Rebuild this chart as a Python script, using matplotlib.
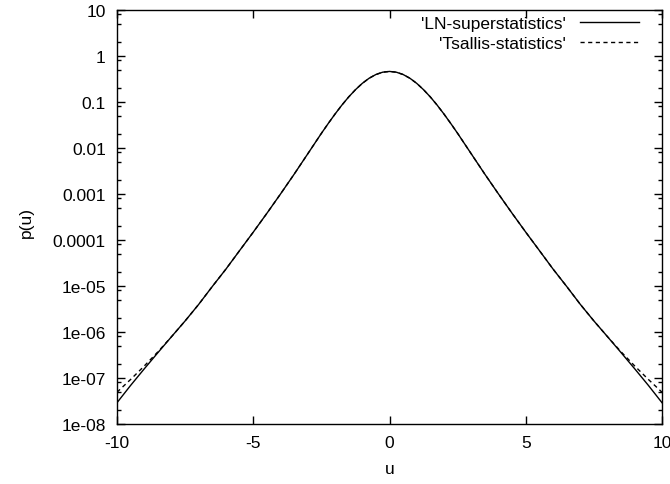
import numpy as np
import matplotlib.pyplot as plt
from matplotlib.ticker import LogLocator, NullFormatter, NullLocator

plt.rcParams['font.family'] = ['Liberation Sans', 'DejaVu Sans']
plt.rcParams['font.size'] = 12.5
plt.rcParams['axes.unicode_minus'] = False

# data
u = [-10, -9.5, -9, -8.5, -8, -7.5, -7, -6.5, -6, -5.5, -5, -4.5, -4, -3.5, -3,
     -2.5, -2.25, -2, -1.75, -1.5, -1.25, -1, -0.75, -0.5, -0.25, 0,
     0.25, 0.5, 0.75, 1, 1.25, 1.5, 1.75, 2, 2.25, 2.5,
     3, 3.5, 4, 4.5, 5, 5.5, 6, 6.5, 7, 7.5, 8, 8.5, 9, 9.5, 10]

p_tsallis = [4.9e-8, 9.3e-8, 1.82e-7, 3.7e-7, 7.9e-7, 1.74e-6, 4.0e-6, 9.8e-6,
             2.34e-5, 5.9e-5, 1.48e-4, 3.8e-4, 1.0e-3, 2.69e-3, 7.47e-3,
             0.0208, 0.0340, 0.0546, 0.0853, 0.1285, 0.185, 0.254, 0.328, 0.396, 0.445, 0.462,
             0.445, 0.396, 0.328, 0.254, 0.185, 0.1285, 0.0853, 0.0546, 0.0340, 0.0208,
             7.47e-3, 2.69e-3, 1.0e-3, 3.8e-4, 1.48e-4, 5.9e-5, 2.34e-5, 9.8e-6,
             4.0e-6, 1.74e-6, 7.9e-7, 3.7e-7, 1.82e-7, 9.3e-8, 4.9e-8]

p_ln = [2.9e-8, 6.9e-8, 1.58e-7, 3.55e-7, 7.9e-7, 1.74e-6, 4.0e-6, 9.8e-6,
        2.34e-5, 5.9e-5, 1.48e-4, 3.8e-4, 1.0e-3, 2.69e-3, 7.47e-3,
        0.0208, 0.0340, 0.0546, 0.0853, 0.1285, 0.185, 0.254, 0.328, 0.396, 0.445, 0.462,
        0.445, 0.396, 0.328, 0.254, 0.185, 0.1285, 0.0853, 0.0546, 0.0340, 0.0208,
        7.47e-3, 2.69e-3, 1.0e-3, 3.8e-4, 1.48e-4, 5.9e-5, 2.34e-5, 9.8e-6,
        4.0e-6, 1.74e-6, 7.9e-7, 3.55e-7, 1.58e-7, 6.9e-8, 2.9e-8]

yticks = [10, 1, 0.1, 0.01, 0.001, 0.0001, 1e-5, 1e-6, 1e-7, 1e-8]
ytick_labels = ['10', '1', '0.1', '0.01', '0.001', '0.0001', '1e-05', '1e-06', '1e-07', '1e-08']
xticks = [-10, -5, 0, 5, 10]

fig = plt.figure(figsize=(6.7, 4.85), dpi=100)
ax = fig.add_subplot(111)
fig.subplots_adjust(left=0.1746, right=0.9881, bottom=0.1237, top=0.9773)

ax.plot(u, p_ln, color='black', linewidth=1, label="'LN-superstatistics'")
ax.plot(u, p_tsallis, color='black', linewidth=1, dashes=(3, 2.5),
        label="'Tsallis-statistics'")

ax.set_yscale('log')
ax.set_xlim(-10, 10)
ax.set_ylim(1e-8, 10)
ax.set_yticks(yticks, ytick_labels)
ax.set_xticks(xticks)
ax.yaxis.set_minor_locator(LogLocator(base=10, subs=[2, 5, 8], numticks=20))
ax.yaxis.set_minor_formatter(NullFormatter())
ax.xaxis.set_minor_locator(NullLocator())

ax.tick_params(which='both', direction='in', top=True, right=True, width=1)
ax.tick_params(which='major', length=5.8, pad=8)
ax.tick_params(which='minor', length=2.9)
for s in ax.spines.values():
    s.set_linewidth(1)

ax.set_xlabel('u')
ax.set_ylabel('p(u)')
ax.yaxis.set_label_coords(-0.152, 0.49)
ax.xaxis.set_label_coords(0.5, -0.089)

ax.legend(loc='upper right', bbox_to_anchor=(0.958, 0.985), borderaxespad=0,
          borderpad=0, frameon=False, markerfirst=False, handlelength=3.4,
          handletextpad=0.8, labelspacing=0.25)

fig.savefig('out.png', dpi=100)
